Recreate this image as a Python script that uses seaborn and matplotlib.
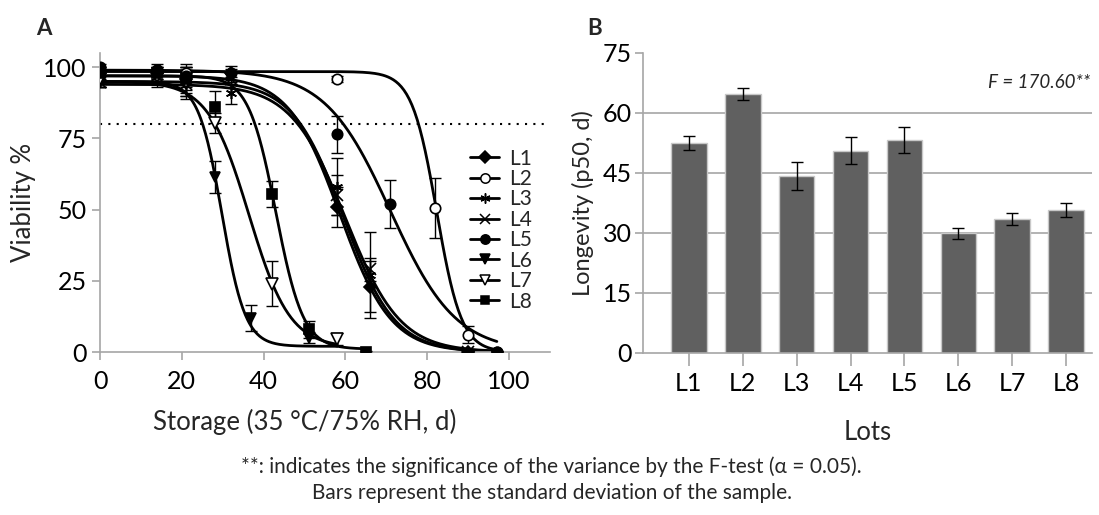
import numpy as np
import pandas as pd
import seaborn as sns
import matplotlib.pyplot as plt
from matplotlib.lines import Line2D

sns.set_style("white")
plt.rcParams['font.family'] = ['Lato', 'DejaVu Sans']

lots = ['L1', 'L2', 'L3', 'L4', 'L5', 'L6', 'L7', 'L8']

# panel A - viability during storage (mean, sd)
L1_days = [0, 14, 21, 32, 58, 66, 90]
L1_viab = [98, 98, 96, 98, 51, 23, 0]
L1_sd = [1, 1, 3, 1.5, 7, 9, 0.5]
L2_days = [0, 14, 21, 58, 82, 90, 97]
L2_viab = [99, 99, 98, 96, 50.5, 6, 0]
L2_sd = [1, 1, 2, 1, 10.5, 3, 0.5]
L3_days = [0, 14, 21, 32, 58, 66, 90]
L3_viab = [96, 98, 95, 91, 58, 27, 0]
L3_sd = [3, 2, 5, 4, 10, 15, 0.5]
L4_days = [0, 14, 21, 32, 58, 66, 90]
L4_viab = [95, 97, 94, 96, 55, 29, 0]
L4_sd = [2, 1, 3, 2, 7, 4, 0.5]
L5_days = [0, 14, 21, 32, 58, 71, 97]
L5_viab = [100, 99, 97, 98, 76.5, 52, 0]
L5_sd = [1, 1, 2, 2.5, 6.5, 8.5, 0.5]
L6_days = [0, 14, 21, 28, 37, 51]
L6_viab = [95, 97, 94, 61.5, 12, 5]
L6_sd = [2, 2, 4, 5.5, 4.5, 2]
L7_days = [0, 14, 21, 28, 42, 58]
L7_viab = [96, 97, 95, 80.5, 24, 4.5]
L7_sd = [3, 4, 6, 3.5, 8, 2]
L8_days = [0, 14, 21, 28, 42, 51, 65]
L8_viab = [98, 98, 96, 86, 55.5, 8, 0]
L8_sd = [2, 1, 4, 5.5, 4.5, 3, 0.5]

# fitted sigmoid parameters per lot: top, bottom, x50, slope, end of curve
fit_top = [97, 98.5, 95, 94, 99, 95, 95, 97]
fit_bottom = [0, 0, 0, 0, 0, 2, 1.5, 1]
fit_x50 = [58.6, 82.3, 59.5, 60, 71, 29.8, 36.4, 43]
fit_slope = [0.16, 0.33, 0.16, 0.15, 0.125, 0.35, 0.20, 0.30]
fit_end = [97, 97, 97, 97, 97, 58, 58, 65]

# panel B - longevity
p50 = [52.5, 64.7, 44.2, 50.6, 53.3, 29.9, 33.5, 35.8]
p50_sd = [1.7, 1.5, 3.5, 3.3, 3.3, 1.4, 1.6, 1.7]

days = [L1_days, L2_days, L3_days, L4_days, L5_days, L6_days, L7_days, L8_days]
viab = [L1_viab, L2_viab, L3_viab, L4_viab, L5_viab, L6_viab, L7_viab, L8_viab]
sds = [L1_sd, L2_sd, L3_sd, L4_sd, L5_sd, L6_sd, L7_sd, L8_sd]

markers = ['D', 'o', (6, 2, 0), 'x', 'o', 'v', 'v', 's']
filled = [True, False, True, True, True, True, False, True]
msizes = [6.5, 7.5, 8, 8, 7.5, 7.5, 8, 6.5]

grey = '#a6a6a6'

fig = plt.figure(figsize=(10.99, 5.15), dpi=100)
axA = fig.add_axes([0.091, 0.3165, 0.4095, 0.5805])
axB = fig.add_axes([0.585, 0.3146, 0.4086, 0.5825])

# fitted curves
rows = []
for i, lot in enumerate(lots):
    xs = np.linspace(0, fit_end[i], 300)
    ys = fit_bottom[i] + (fit_top[i] - fit_bottom[i]) / (1 + np.exp(fit_slope[i] * (xs - fit_x50[i])))
    rows.append(pd.DataFrame({'day': xs, 'fit': ys, 'lot': lot}))
curves = pd.concat(rows)
sns.lineplot(data=curves, x='day', y='fit', hue='lot', palette=['black'] * 8,
             linewidth=2, legend=False, ax=axA, zorder=2)

handles = []
for i, lot in enumerate(lots):
    fc = 'black' if filled[i] else 'white'
    axA.errorbar(days[i], viab[i], yerr=sds[i], fmt='none', ecolor='black',
                 elinewidth=1, capsize=4, capthick=1, zorder=3)
    axA.plot(days[i], viab[i], linestyle='none', marker=markers[i], ms=msizes[i],
             mfc=fc, mec='black', mew=1.2, zorder=4)
    handles.append(Line2D([], [], color='black', lw=2, marker=markers[i], ms=msizes[i] * 0.9,
                          mfc=fc, mec='black', mew=1.1))

axA.axhline(80, color='black', lw=1.5, linestyle=(0, (1, 3)), zorder=1)
axA.set_xlim(0, 110)
axA.set_ylim(0, 105)
axA.set_xticks([0, 20, 40, 60, 80, 100])
axA.set_yticks([0, 25, 50, 75, 100])
axA.set_xlabel('Storage (35 °C/75% RH, d)', fontsize=18.5)
axA.set_ylabel('Viability %', fontsize=18.5)
axA.xaxis.set_label_coords(50 / 110, -0.19)
axA.yaxis.set_label_coords(-0.142, 0.5)
axA.legend(handles, lots, loc='upper left', bbox_to_anchor=(0.80, 0.715), frameon=False,
           fontsize=15, handlelength=1.35, handletextpad=0.5, labelspacing=0.02,
           borderpad=0)

# bar chart
bar_df = pd.DataFrame({'lot': lots, 'p50': p50})
sns.barplot(data=bar_df, x='lot', y='p50', color='#606060', edgecolor='#c8c8c8',
            linewidth=1, width=0.66, saturation=1, ax=axB, zorder=2)
axB.errorbar(range(len(lots)), p50, yerr=p50_sd, fmt='none', ecolor='black',
             elinewidth=1, capsize=4, capthick=1, zorder=3)
for g in [15, 30, 45, 60]:
    axB.axhline(g, color=grey, lw=1.2, zorder=1)
axB.set_xlim(-0.853, 7.48)
axB.set_ylim(0, 75)
axB.set_yticks([0, 15, 30, 45, 60, 75])
axB.set_xlabel('Lots', fontsize=18.5)
axB.set_ylabel('Longevity (p50, d)', fontsize=17)
axB.xaxis.set_label_coords(0.5, -0.225)
axB.yaxis.set_label_coords(-0.108, 0.5)
axB.text(7.45, 67.5, 'F = 170.60**', fontsize=13.5, style='italic', ha='right', va='center')

for ax in [axA, axB]:
    for side in ['top', 'right']:
        ax.spines[side].set_visible(False)
    for side in ['left', 'bottom']:
        ax.spines[side].set_color(grey)
        ax.spines[side].set_linewidth(1.2)
    ax.tick_params(axis='both', colors=grey, labelcolor='black', labelsize=18,
                   direction='out', length=6, width=1.2, left=True, bottom=True)
axA.tick_params(axis='x', pad=7)
axB.tick_params(axis='x', length=9, pad=5)
axB.tick_params(axis='y', pad=2)

fig.text(0.033, 0.945, 'A', fontsize=16, fontweight='bold', ha='left', va='center')
fig.text(0.534, 0.945, 'B', fontsize=16, fontweight='bold', ha='left', va='center')
fig.text(0.502, 0.093, '**: indicates the significance of the variance by the F-test (α = 0.05).',
         fontsize=15, ha='center', va='center')
fig.text(0.502, 0.043, 'Bars represent the standard deviation of the sample.',
         fontsize=15, ha='center', va='center')

fig.savefig('out.png', dpi=100)
